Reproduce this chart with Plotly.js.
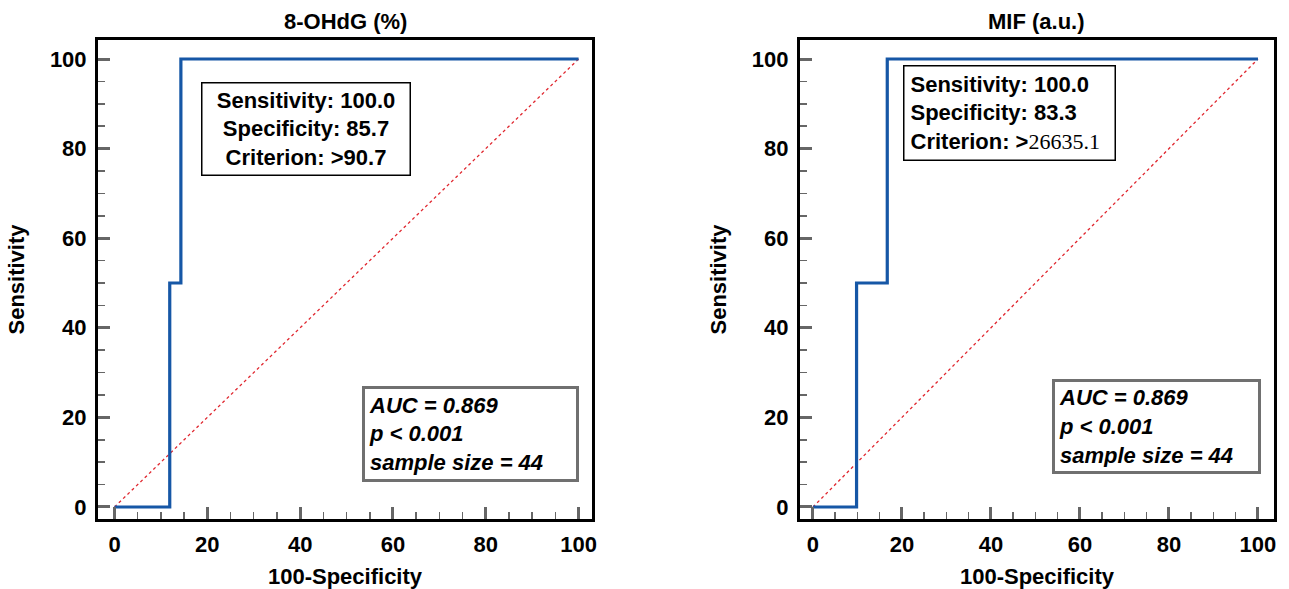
<!DOCTYPE html>
<html>
<head>
<meta charset="utf-8">
<script src="https://cdn.plot.ly/plotly-3.0.1.min.js"></script>
<style>html,body{margin:0;padding:0;background:#fff;}#chart{width:1289px;height:589px;}</style>
</head>
<body>
<div id="chart"></div>
<script>
// ---- data ----
const panelTitles = ['8-OHdG (%)', 'MIF (a.u.)'];
const fprOHdG = [0, 11.9, 14.3, 100];
const sensOHdG = [0, 50, 100, 100];
const fprMIF = [0, 9.8, 16.7, 100];
const sensMIF = [0, 50, 100, 100];
const diagX = [0, 100];
const diagY = [0, 100];
const tickVals = [0, 20, 40, 60, 80, 100];
const tickText = ['0', '20', '40', '60', '80', '100'];
const sensitivity = ['100.0', '100.0'];
const specificity = ['85.7', '83.3'];
const criterion = ['>90.7', '>26635.1'];
const auc = ['0.869', '0.869'];
const pValue = ['< 0.001', '< 0.001'];
const sampleSize = [44, 44];
const xTitle = '100-Specificity';
const yTitle = 'Sensitivity';

const FONT = 'Liberation Sans, Arial, sans-serif';
const blue = '#1657a6';
const red = '#e0262e';

const traces = [
  {x: diagX, y: diagY, xaxis: 'x', yaxis: 'y', mode: 'lines', line: {color: red, width: 1.3, dash: 'dot'}, hoverinfo: 'skip', showlegend: false},
  {x: fprOHdG, y: sensOHdG, xaxis: 'x', yaxis: 'y', mode: 'lines', line: {color: blue, width: 3.2, shape: 'hv'}, showlegend: false},
  {x: diagX, y: diagY, xaxis: 'x2', yaxis: 'y2', mode: 'lines', line: {color: red, width: 1.3, dash: 'dot'}, hoverinfo: 'skip', showlegend: false},
  {x: fprMIF, y: sensMIF, xaxis: 'x2', yaxis: 'y2', mode: 'lines', line: {color: blue, width: 3.2, shape: 'hv'}, showlegend: false}
];

function xAx(domain, range) {
  return {
    domain: domain, range: range, showgrid: false, zeroline: false,
    showline: true, linecolor: '#000', linewidth: 3, mirror: true,
    ticks: 'inside', ticklen: 12, tickwidth: 3, tickcolor: '#666',
    tickvals: tickVals, ticktext: tickText,
    tickfont: {family: FONT, size: 22, weight: 'bold', color: '#000'},
    ticklabelstandoff: 4,
    minor: {ticks: 'inside', dtick: 5, ticklen: 7, tickwidth: 1.5, tickcolor: '#666'},
    title: {text: xTitle, font: {family: FONT, size: 22, weight: 'bold', color: '#000'}, standoff: 16}
  };
}
function yAx(anchor) {
  return {
    domain: [0, 1], range: [-2.68, 104.24], anchor: anchor, showgrid: false, zeroline: false,
    showline: true, linecolor: '#000', linewidth: 3, mirror: true,
    ticks: 'inside', ticklen: 12, tickwidth: 3, tickcolor: '#666',
    tickvals: tickVals, ticktext: tickText,
    tickfont: {family: FONT, size: 22, weight: 'bold', color: '#000'},
    ticklabelstandoff: 4,
    minor: {ticks: 'inside', dtick: 5, ticklen: 7, tickwidth: 1.5, tickcolor: '#666'},
    title: {text: yTitle, font: {family: FONT, size: 22, weight: 'bold', color: '#000'}, standoff: 20}
  };
}

const xa = xAx([0, 0.4201], [-3.56, 102.9]); xa.anchor = 'y';
const xa2 = xAx([0.5969, 1], [-2.92, 103.6]); xa2.anchor = 'y2';

const boxFont = {family: FONT, size: 22, weight: 'bold', color: '#000'};
const statFont = {family: FONT, size: 22, weight: 'bold', style: 'italic', color: '#000'};

const annotations = [];
panelTitles.forEach((t, i) => {
  annotations.push({
    text: t, xref: (i === 0 ? 'x' : 'x2') + ' domain', yref: 'paper', x: 0.5, y: 1,
    yshift: 19, xanchor: 'center', yanchor: 'middle', showarrow: false,
    font: {family: FONT, size: 22, weight: 'bold', color: '#000'}
  });
});
// top info boxes
annotations.push({
  xref: 'x', yref: 'y', x: 41.3, y: 84.4, xanchor: 'center', yanchor: 'middle', showarrow: false,
  text: 'Sensitivity: ' + sensitivity[0] + '<br>Specificity: ' + specificity[0] + '<br>Criterion: ' + criterion[0],
  align: 'center', font: boxFont, bgcolor: '#fff', bordercolor: '#000', borderwidth: 1.5, borderpad: 3,
  width: 201, height: 85
});
annotations.push({
  xref: 'x2', yref: 'y2', x: 44.2, y: 87.9, xanchor: 'center', yanchor: 'middle', showarrow: false,
  text: 'Sensitivity: ' + sensitivity[1] + '<br>Specificity: ' + specificity[1] + '<br>Criterion: ' +
        criterion[1].charAt(0) + '<span style="font-family:Liberation Serif;font-weight:normal">' + criterion[1].slice(1) + '</span>',
  align: 'left', font: boxFont, bgcolor: '#fff', bordercolor: '#000', borderwidth: 1.5, borderpad: 6,
  width: 198, height: 81
});
// bottom stats boxes
[[76.7, 16.3, 'x', 'y', 205, 82], [77.2, 18.0, 'x2', 'y2', 197, 81]].forEach((p, i) => {
  annotations.push({
    xref: p[2], yref: p[3], x: p[0], y: p[1], xanchor: 'center', yanchor: 'middle', showarrow: false,
    text: 'AUC = ' + auc[i] + '<br>p ' + pValue[i] + '<br>sample size = ' + sampleSize[i],
    align: 'left', font: statFont, bgcolor: '#fff', bordercolor: '#707070', borderwidth: 3, borderpad: 4,
    width: p[4] - 2, height: p[5]
  });
});

const layout = {
  width: 1289, height: 589,
  margin: {l: 98, r: 15, t: 40, b: 70},
  paper_bgcolor: '#fff', plot_bgcolor: '#fff',
  font: {family: FONT},
  xaxis: xa, yaxis: yAx('x'),
  xaxis2: xa2, yaxis2: yAx('x2'),
  annotations: annotations,
  showlegend: false
};

Plotly.newPlot('chart', traces, layout, {displayModeBar: false, staticPlot: true});
</script>
</body>
</html>
